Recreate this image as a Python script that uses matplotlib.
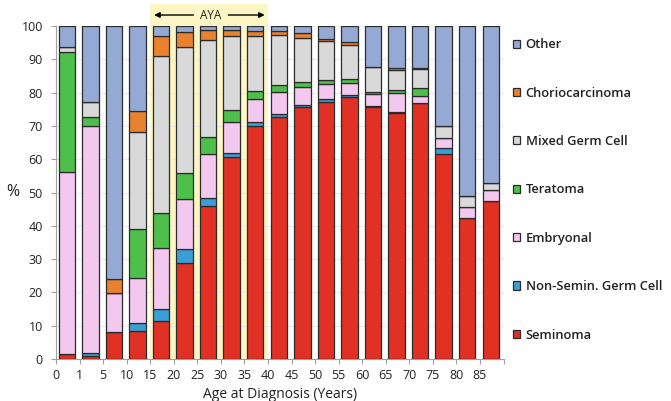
import numpy as np
import matplotlib
matplotlib.use("Agg")
import matplotlib.pyplot as plt
from matplotlib.patches import Rectangle

plt.rcParams['font.family'] = ['Open Sans', 'DejaVu Sans']

# age groups (tick labels at the left edge of each bar)
age_labels = ['0', '1', '5', '10', '15', '20', '25', '30', '35', '40',
              '45', '50', '55', '60', '65', '70', '75', '80', '85']

# segment sizes (%), bottom to top
seminoma = [1.5, 0.8, 8.0, 8.4, 11.3, 28.7, 45.8, 60.7, 69.9, 72.7,
            75.7, 77.1, 78.8, 75.8, 73.8, 76.8, 61.5, 42.2, 47.3]
non_semin = [0.0, 0.9, 0.0, 2.4, 3.7, 4.3, 2.6, 1.1, 1.2, 1.0,
             0.7, 1.0, 0.4, 0.2, 0.5, 0.0, 2.0, 0.0, 0.0]
embryonal = [54.7, 68.4, 11.9, 13.6, 18.4, 15.0, 13.3, 9.5, 7.0, 6.6,
             5.2, 4.6, 3.6, 3.5, 5.5, 2.1, 2.9, 3.5, 3.5]
teratoma = [35.9, 2.6, 0.0, 14.5, 10.5, 8.0, 4.9, 3.4, 2.3, 1.9,
            1.5, 1.1, 1.4, 0.7, 0.9, 2.4, 0.0, 0.0, 0.0]
mixed = [1.6, 4.5, 0.0, 29.4, 47.1, 37.6, 29.2, 22.4, 16.7, 15.1,
         13.2, 11.6, 10.1, 7.6, 6.0, 5.7, 3.7, 3.3, 2.1]
chorio = [0.0, 0.0, 4.0, 6.1, 6.0, 4.6, 3.1, 1.8, 1.3, 1.3,
          1.7, 0.6, 0.8, 0.0, 0.8, 0.5, 0.0, 0.0, 0.0]
other = [round(100 - sum(v), 1) for v in zip(seminoma, non_semin, embryonal,
                                              teratoma, mixed, chorio)]

series = [
    ('Seminoma', seminoma, '#E03124'),
    ('Non-Semin. Germ Cell', non_semin, '#3A9FD6'),
    ('Embryonal', embryonal, '#F2C8EE'),
    ('Teratoma', teratoma, '#4DBF4A'),
    ('Mixed Germ Cell', mixed, '#D9D9D9'),
    ('Choriocarcinoma', chorio, '#E8822E'),
    ('Other', other, '#95A9D5'),
]

fig = plt.figure(figsize=(6.71, 4.01), dpi=100)
ax = fig.add_axes([56 / 671, 1 - 359 / 401, 447.5 / 671, 333 / 401])

x = np.arange(len(age_labels)) + 0.46
bottom = np.zeros(len(age_labels))
handles = []
for name, vals, color in series:
    vals = np.array(vals)
    b = ax.bar(x, vals, width=0.7, bottom=bottom, color=color,
               edgecolor='#2b2b2b', linewidth=0.9, label=name, zorder=3)
    handles.append(b)
    bottom += vals

# AYA band (15 to 40 years)
aya = Rectangle((4, 0), 5, 106.6, facecolor='#FBF6C4', edgecolor='none',
                zorder=0, clip_on=False)
ax.add_patch(aya)
ax.annotate('', xy=(4.05, 103.3), xytext=(5.95, 103.3),
            arrowprops=dict(arrowstyle='-|>', color='black', lw=1,
                            mutation_scale=8), annotation_clip=False)
ax.annotate('', xy=(8.98, 103.3), xytext=(7.2, 103.3),
            arrowprops=dict(arrowstyle='-|>', color='black', lw=1,
                            mutation_scale=8), annotation_clip=False)
ax.text(6.55, 103.3, 'AYA', ha='center', va='center', fontsize=8.5,
        color='#222222')

ax.set_xlim(0, 19)
ax.set_ylim(0, 100)
ax.set_xticks(np.arange(20))
ax.set_xticklabels(age_labels + [''])
ax.set_yticks(np.arange(0, 101, 10))
ax.tick_params(axis='both', labelsize=9, colors='#222222', length=3.5,
               color='#A0A0A0')
ax.tick_params(axis='y', pad=6)
ax.yaxis.grid(True, color='#EBEBEB', linewidth=0.8, zorder=1)
ax.set_axisbelow(True)
for s in ['top', 'right']:
    ax.spines[s].set_visible(False)
for s in ['left', 'bottom']:
    ax.spines[s].set_color('#A0A0A0')
ax.patch.set_alpha(0)

ax.set_xlabel('Age at Diagnosis (Years)', fontsize=10, color='#222222',
              labelpad=4)
ax.set_ylabel('%', fontsize=11.5, rotation=0, color='#222222', va='center',
              ha='center')
ax.yaxis.set_label_coords(-0.097, 0.5)

leg = fig.legend(handles[::-1], [h.get_label() for h in handles[::-1]],
                 loc='upper left', bbox_to_anchor=(507.5 / 671, 1 - 33 / 401),
                 frameon=False, labelspacing=2.74,
                 handlelength=0.6, handleheight=0.6, handletextpad=0.4,
                 borderaxespad=0, prop={'weight': 'semibold', 'size': 9.3})
for t in leg.get_texts():
    t.set_color('#222222')

fig.savefig('out.png', dpi=100)
